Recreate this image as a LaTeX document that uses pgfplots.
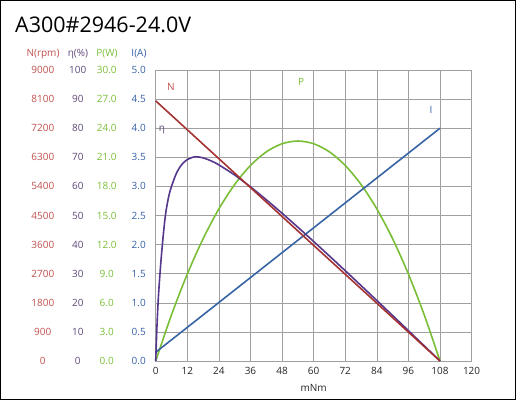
\documentclass[border=0pt]{standalone}
\usepackage{pgfplots}
\pgfplotsset{compat=1.18}
\usepackage{fontspec}
\setmainfont{Open Sans}
\definecolor{nline}{RGB}{165,50,50}
\definecolor{ntxt}{RGB}{192,80,77}
\definecolor{eline}{RGB}{85,55,140}
\definecolor{etxt}{RGB}{96,73,122}
\definecolor{pline}{RGB}{122,190,55}
\definecolor{ptxt}{RGB}{122,190,55}
\definecolor{iline}{RGB}{55,100,165}
\definecolor{itxt}{RGB}{55,96,165}
\definecolor{gridc}{RGB}{160,160,160}
\newcommand{\tl}[4]{\hbox to 129pt{\hskip23pt\makebox[0pt]{\color{ntxt}#1}\hskip35pt\makebox[0pt]{\color{etxt}#2}\hskip29pt\makebox[0pt]{\color{ptxt}#3}\hskip32pt\makebox[0pt]{\color{itxt}#4}\hss}}
\begin{document}
\begin{tikzpicture}
\begin{axis}[
  at={(0,0)}, anchor=origin,
  scale only axis, width=315.9pt, height=291pt,
  xmin=0, xmax=120, ymin=0, ymax=5,
  xtick={0,12,...,120},
  ytick={0,0.5,...,5},
  yticklabels={{\tl{0}{0}{0.0}{0.0}},{\tl{900}{10}{3.0}{0.5}},{\tl{1800}{20}{6.0}{1.0}},{\tl{2700}{30}{9.0}{1.5}},{\tl{3600}{40}{12.0}{2.0}},{\tl{4500}{50}{15.0}{2.5}},{\tl{5400}{60}{18.0}{3.0}},{\tl{6300}{70}{21.0}{3.5}},{\tl{7200}{80}{24.0}{4.0}},{\tl{8100}{90}{27.0}{4.5}},{\tl{9000}{100}{30.0}{5.0}}},
  yticklabel style={anchor=east, inner sep=0pt, xshift=-6.7pt, font=\fontsize{10}{12}\selectfont},
  xticklabel style={font=\fontsize{10}{12}\selectfont, text=black!85, yshift=-3pt},
  /pgf/number format/assume math mode=true,
  major tick length=0pt,
  grid=major,
  major grid style={gridc, line width=0.6pt},
  axis line style={gridc, line width=0.8pt},
  xlabel={mNm},
  xlabel style={font=\fontsize{10}{12}\selectfont, text=black!85, yshift=-3pt},
  clip=false,
]
\addplot[pline, line width=1.6pt, smooth] coordinates {
(0,0) (6,0.7933) (12,1.4933) (18,2.1) (24,2.6133) (30,3.0333) (36,3.36) (42,3.5933) (48,3.7333) (54,3.78) (60,3.7333) (66,3.5933) (72,3.36) (78,3.0333) (84,2.6133) (90,2.1) (96,1.4933) (102,0.7933) (108,0)
};
\addplot[iline, line width=1.6pt] coordinates {(0,0.15) (108,4.0)};
\addplot[eline, line width=1.6pt, smooth, tension=0.5] coordinates {
(0,0) (0.5,0.62) (1,1.08) (1.5,1.42) (2,1.72) (2.5,1.98) (3,2.22) (3.5,2.43) (4,2.6) (5,2.84) (6,3.0) (8,3.24) (10,3.38) (12,3.46) (15,3.51) (18,3.49) (21,3.44) (24,3.37) (30,3.1957) (36,2.992) (42,2.771) (48,2.5387) (54,2.2987) (60,2.0533) (66,1.8039) (72,1.5514) (78,1.2965) (84,1.0398) (90,0.7815) (96,0.522) (102,0.2614) (108,0)
};
\addplot[nline, line width=1.6pt] coordinates {(0,4.47) (108,0)};
\node[ntxt, font=\fontsize{10}{12}\selectfont] at (axis cs:5.8,4.71) {N};
\node[etxt, font=\fontsize{10}{12}\selectfont] at (axis cs:2.4,3.97) {η};
\node[pline, font=\fontsize{10}{12}\selectfont] at (axis cs:55.2,4.79) {P};
\node[iline, font=\fontsize{10}{12}\selectfont] at (axis cs:104.6,4.31) {I};
\end{axis}
\draw[line width=1pt, black] (-155.2pt,-38.5pt) rectangle (359.8pt,360.5pt);
\node[anchor=base west, inner sep=0pt, font=\fontsize{21.5}{24}\selectfont] at (-140.7pt,328pt) {A300\#2946-24.0V};
\begin{scope}[every node/.style={anchor=base, inner sep=0pt, font=\fontsize{10}{12}\selectfont}]
\node[ntxt] at (-112.7pt,305pt) {N(rpm)};
\node[etxt] at (-77.7pt,305pt) {η(\%)};
\node[ptxt] at (-48.7pt,305pt) {P(W)};
\node[itxt] at (-16.7pt,305pt) {I(A)};
\end{scope}
\end{tikzpicture}
\end{document}
